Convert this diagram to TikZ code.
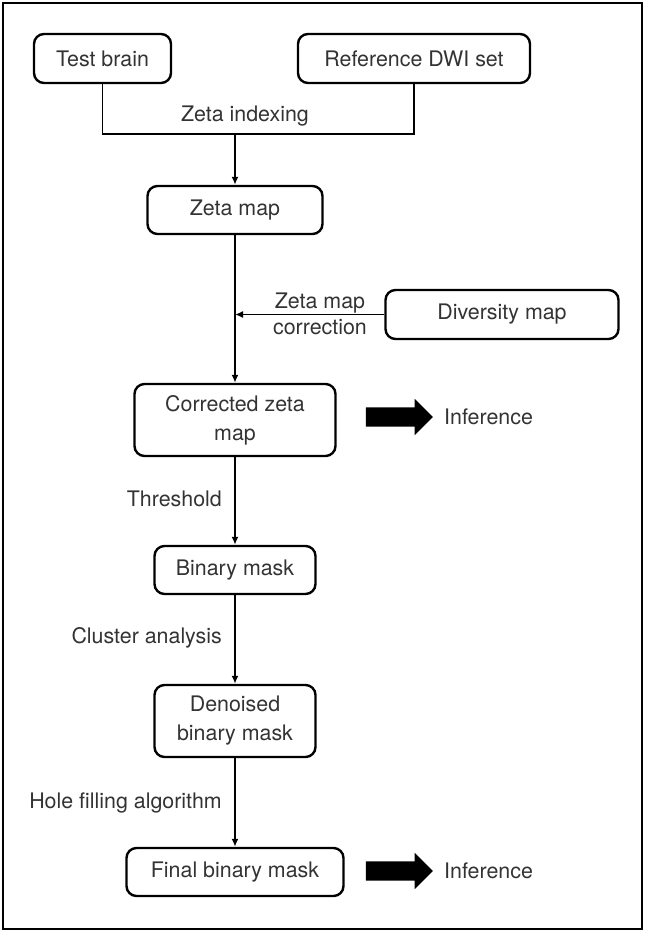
\documentclass[tikz,border=0pt]{standalone}
\usepackage{fontspec}
\setmainfont{TeX Gyre Heros}
\usepackage{tikz}
\usetikzlibrary{arrows.meta,shapes.arrows}
\definecolor{textgray}{HTML}{333333}
\tikzset{
    stepbox/.style={draw=black, line width=2.4pt, rounded corners=10pt, align=center,
        text=textgray, font=\fontsize{21.4}{29}\selectfont, inner sep=0pt},
    steplabel/.style={text=textgray, font=\fontsize{21.4}{26.5}\selectfont, align=center, inner sep=0pt},
    flow/.style={line width=1.8pt, -{Latex[length=8pt,width=7pt]}},
    bigarrow/.style={single arrow, fill=black, draw=none, inner xsep=0pt, inner ysep=9.5pt,
        minimum height=67pt, minimum width=36pt, single arrow head extend=8.5pt},
}
\begin{document}
\begin{tikzpicture}[x=1pt,y=-1pt]
\useasboundingbox (0,0) rectangle (645,933);
\draw[line width=2.6pt] (3,3) rectangle (642,929);
\node[stepbox, minimum width=137pt, minimum height=49pt] (testbrain) at (102.5,58.5) {Test brain};
\node[stepbox, minimum width=232pt, minimum height=49pt] (refdwi) at (414,58.5) {Reference DWI set};
\node[stepbox, minimum width=175pt, minimum height=48pt] (zetamap) at (235,210) {Zeta map};
\node[stepbox, minimum width=233pt, minimum height=49pt] (diversity) at (502,314.5) {Diversity map};
\node[stepbox, minimum width=201pt, minimum height=72pt] (corrected) at (235,420) {Corrected zeta\\map};
\node[stepbox, minimum width=161pt, minimum height=48pt] (binmask) at (235,570) {Binary mask};
\node[stepbox, minimum width=161pt, minimum height=72pt] (denoised) at (235,721) {Denoised\\binary mask};
\node[stepbox, minimum width=217pt, minimum height=48pt] (final) at (235,872) {Final binary mask};
\coordinate (joint) at (235,134);
\draw[line width=1.8pt] (testbrain.south) |- (joint) -| (refdwi.south);
\draw[flow] (joint) -- (zetamap.north);
\node[steplabel] (zetaidx) at (245,116) {Zeta indexing};
\draw[flow] (zetamap.south) -- (corrected.north);
\draw[flow] (diversity.west) -- (zetamap.south |- diversity.west);
\node[steplabel] (correction) at (320,314) {Zeta map\\correction};
\node[bigarrow] (arrowone) at (394.5,417) {};
\node[steplabel, anchor=west] (inferone) at (444,417) {Inference};
\draw[flow] (corrected.south) -- (binmask.north);
\node[steplabel, anchor=east] (threshold) at (222,499) {Threshold};
\draw[flow] (binmask.south) -- (denoised.north);
\node[steplabel, anchor=east] (cluster) at (222,638) {Cluster analysis};
\draw[flow] (denoised.south) -- (final.north);
\node[steplabel, anchor=east] (holefill) at (222,803) {Hole filling algorithm};
\node[bigarrow] (arrowtwo) at (394.5,871) {};
\node[steplabel, anchor=west] (infertwo) at (444,871) {Inference};
\end{tikzpicture}
\end{document}
